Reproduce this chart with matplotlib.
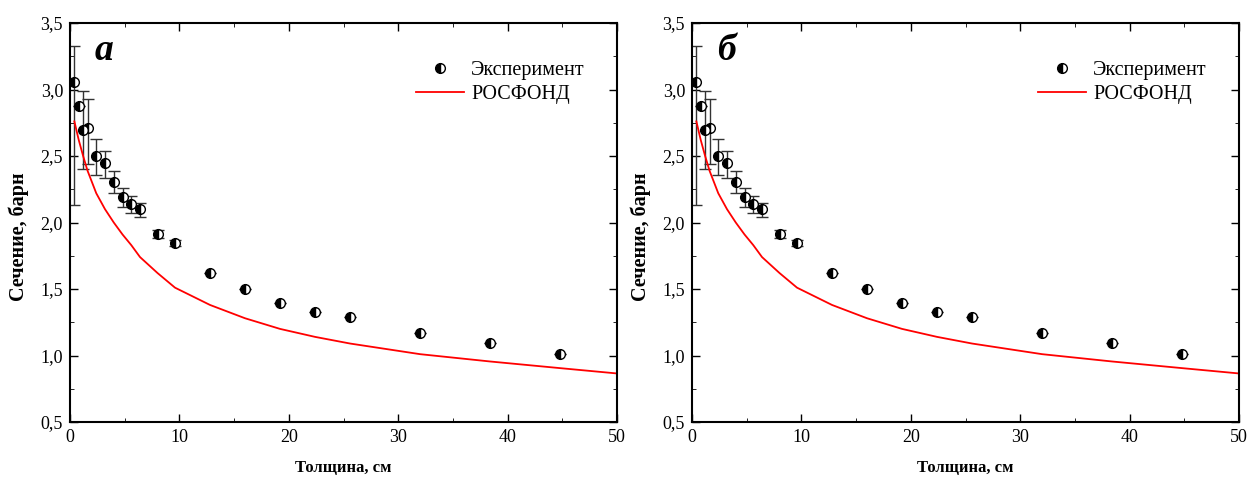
import matplotlib
matplotlib.use("Agg")
import matplotlib.pyplot as plt
from matplotlib.ticker import MultipleLocator, FuncFormatter

plt.rcParams['font.family'] = ['Liberation Serif', 'DejaVu Serif']

# thickness, cm
thickness = [0.4, 0.8, 1.2, 1.6, 2.4, 3.2, 4.0, 4.8, 5.6, 6.4,
             8.0, 9.6, 12.8, 16.0, 19.2, 22.4, 25.6, 32.0, 38.4, 44.8]
# measured cross section, barn
cross_exp = [3.055, 2.875, 2.695, 2.71, 2.50, 2.445, 2.305, 2.19, 2.137, 2.10,
             1.915, 1.846, 1.623, 1.50, 1.397, 1.33, 1.287, 1.171, 1.092, 1.01]
err_low = [0.92, 0.0, 0.29, 0.27, 0.14, 0.11, 0.085, 0.07, 0.065, 0.055,
           0.03, 0.02, 0.0, 0.0, 0.0, 0.0, 0.0, 0.0, 0.0, 0.0]
err_high = [0.27, 0.0, 0.29, 0.22, 0.13, 0.095, 0.085, 0.07, 0.065, 0.05,
            0.03, 0.02, 0.0, 0.0, 0.0, 0.0, 0.0, 0.0, 0.0, 0.0]

# РОСФОНД calculation
calc_x = [0.4, 0.8, 1.2, 1.6, 2.4, 3.2, 4.0, 4.8, 5.6, 6.4,
          8.0, 9.6, 12.8, 16.0, 19.2, 22.4, 25.6, 32.0, 38.4, 44.8, 50.0]
calc_y = [2.76, 2.62, 2.50, 2.39, 2.22, 2.10, 2.00, 1.91, 1.83, 1.74,
          1.62, 1.51, 1.38, 1.28, 1.20, 1.14, 1.09, 1.01, 0.955, 0.905, 0.865]

panel_letters = ['а', 'б']

fig = plt.figure(figsize=(12.48, 4.8), dpi=100)
lefts = [70 / 1248, 692 / 1248]

comma = FuncFormatter(lambda v, p: f"{v:.1f}".replace('.', ','))

for left, letter in zip(lefts, panel_letters):
    ax = fig.add_axes([left, 58 / 480, 547 / 1248, 399 / 480])
    ax.errorbar(thickness, cross_exp, yerr=[err_low, err_high], fmt='none',
                ecolor='#333333', elinewidth=1.0, capsize=4, capthick=1.0, zorder=2)
    ax.plot(thickness, cross_exp, 'o', fillstyle='left', color='black',
            markerfacecoloralt='white', markeredgecolor='black',
            markersize=7, markeredgewidth=1.0, label='Эксперимент', zorder=3)
    ax.plot(calc_x, calc_y, color='red', linewidth=1.3, label='РОСФОНД', zorder=2)

    ax.set_xlim(0, 50)
    ax.set_ylim(0.5, 3.5)
    ax.xaxis.set_major_locator(MultipleLocator(10))
    ax.xaxis.set_minor_locator(MultipleLocator(5))
    ax.yaxis.set_major_locator(MultipleLocator(0.5))
    ax.yaxis.set_minor_locator(MultipleLocator(0.25))
    ax.yaxis.set_major_formatter(comma)
    ax.tick_params(which='both', direction='in', top=True, right=True,
                   labelsize=13, width=1.0)
    ax.tick_params(which='major', length=6, pad=5)
    ax.tick_params(which='minor', length=3, width=0.6)
    for sp in ax.spines.values():
        sp.set_linewidth(1.5)

    ax.set_xlabel('Толщина, см', fontsize=12, fontweight='bold', labelpad=10)
    ax.set_ylabel('Сечение, барн', fontsize=14.5, fontweight='bold')
    ax.yaxis.set_label_coords(-0.075, 0.464)
    ax.text(0.045, 0.93, letter, transform=ax.transAxes, fontsize=27,
            fontweight='bold', fontstyle='italic', va='center')
    ax.legend(loc='upper right', bbox_to_anchor=(0.974, 0.95), frameon=False,
              fontsize=14.5, handlelength=2.4, handletextpad=0.35, labelspacing=0.25)

fig.savefig('out.png', dpi=100)
